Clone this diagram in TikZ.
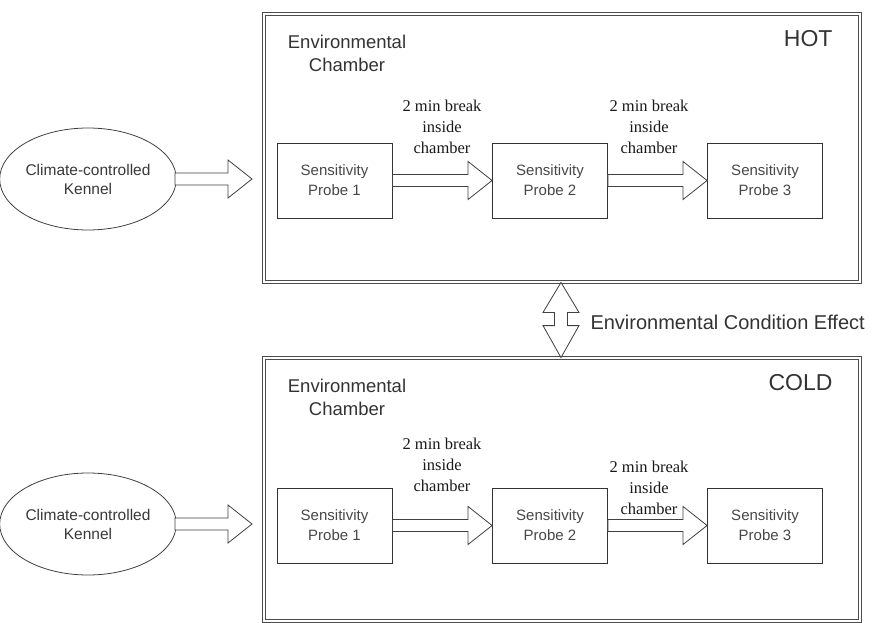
\documentclass[tikz,border=0pt]{standalone}
\usepackage{fontspec}
\setmainfont{Liberation Serif}
\newfontfamily\arialfont{Liberation Sans}
\usepackage{tikz}
\usetikzlibrary{calc,shapes.geometric,positioning}

\newcommand{\fatarrow}[2]{%
  \draw[fat] let \p1=(#1), \p2=(#2) in
    (\x1,\y1+6pt) -- (\x2-24pt,\y1+6pt) -- (\x2-24pt,\y1+19pt) -- (\x2,\y1)
    -- (\x2-24pt,\y1-19pt) -- (\x2-24pt,\y1-6pt) -- (\x1,\y1-6pt) -- cycle;}

\begin{document}
\begin{tikzpicture}[x=1pt,y=-1pt]

\tikzset{chamber/.style={draw=black!70, double, double distance=1.6pt, line width=0.8pt,
           minimum width=596pt, inner sep=0pt},
         probe/.style={draw=black!80, line width=0.9pt, minimum width=115pt, minimum height=75pt,
           inner sep=0pt, align=center, text=black!72, font=\arialfont\fontsize{15}{20}\selectfont},
         kennel/.style={ellipse, draw=black!75, line width=0.8pt, minimum width=151pt,
           minimum height=102pt, inner sep=0pt, align=center, text=black!78,
           font=\arialfont\fontsize{15.5}{19}\selectfont},
         fat/.style={draw=black!75, line width=0.8pt, fill=white},
         brk/.style={align=center, text=black!90, font=\fontsize{16.5}{21}\selectfont},
         envtext/.style={align=center, text=black!80, font=\arialfont\fontsize{18.5}{23}\selectfont},
         cond/.style={text=black!80, font=\arialfont\fontsize{23}{23}\selectfont, anchor=east}}

\useasboundingbox (0,0) rectangle (873,623);

\node[chamber, minimum height=268pt] (hot) at (562,148) {};
\node[chamber, minimum height=263pt] (cold) at (562,489.5) {};

\node[envtext] (envhot) at (347,53.5) {Environmental\\Chamber};
\node[cond] (hotlbl) at (836,39) {HOT};
\node[envtext] (envcold) at (347,397.5) {Environmental\\Chamber};
\node[cond] (coldlbl) at (836,383) {COLD};

\node[kennel] (k1) at (88,179) {Climate-controlled\\Kennel};
\node[probe] (p11) at (334.5,180.5) {Sensitivity\\Probe 1};
\node[probe] (p12) at (550,180.5) {Sensitivity\\Probe 2};
\node[probe] (p13) at (765,180.5) {Sensitivity\\Probe 3};
\node[brk] (b11) at (442,127) {2 min break\\inside\\chamber};
\node[brk] (b12) at (649,126.5) {2 min break\\inside\\chamber};

\node[kennel] (k2) at (88,524) {Climate-controlled\\Kennel};
\node[probe] (p21) at (334.5,525.5) {Sensitivity\\Probe 1};
\node[probe] (p22) at (550,525.5) {Sensitivity\\Probe 2};
\node[probe] (p23) at (765,525.5) {Sensitivity\\Probe 3};
\node[brk] (b21) at (442,465) {2 min break\\inside\\chamber};
\node[brk] (b22) at (649,488) {2 min break\\inside\\chamber};

\coordinate (k1s) at (175,179);
\coordinate (k1e) at (252,179);
\coordinate (k2s) at (175,524);
\coordinate (k2e) at (252,524);

\fatarrow{k1s}{k1e}
\fatarrow{p11.east}{p12.west}
\fatarrow{p12.east}{p13.west}
\fatarrow{k2s}{k2e}
\fatarrow{p21.east}{p22.west}
\fatarrow{p22.east}{p23.west}

\coordinate (dtop) at (hot.south -| 561,0);
\coordinate (dbot) at (cold.north -| 561,0);
\draw[fat] let \p1=(dtop), \p2=(dbot) in
  (\x1,\y1) -- (\x1+18pt,\y1-30pt) -- (\x1+6.5pt,\y1-30pt) -- (\x1+6.5pt,\y2+32pt)
  -- (\x1+18pt,\y2+32pt) -- (\x2,\y2) -- (\x1-18pt,\y2+32pt) -- (\x1-6.5pt,\y2+32pt)
  -- (\x1-6.5pt,\y1-30pt) -- (\x1-18pt,\y1-30pt) -- cycle;
\node[anchor=west, text=black!80, font=\arialfont\fontsize{20}{20}\selectfont] (effect) at (587,322)
  {Environmental Condition Effect};

\end{tikzpicture}
\end{document}
